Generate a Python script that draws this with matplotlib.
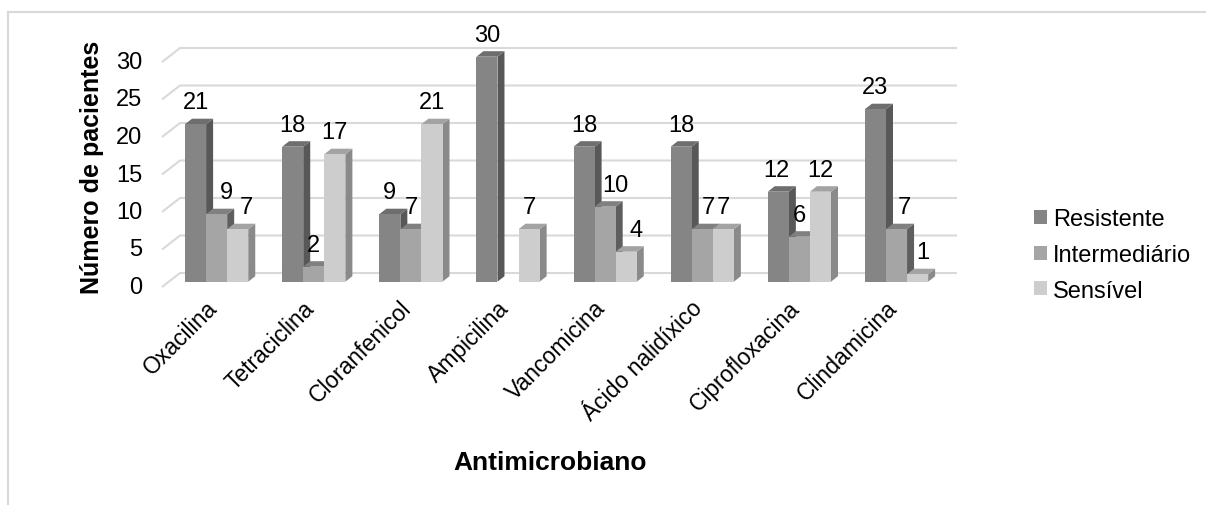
import matplotlib
matplotlib.use("Agg")
import matplotlib.pyplot as plt
import matplotlib.transforms as mtransforms
from matplotlib.patches import Polygon, Patch
from matplotlib.lines import Line2D

plt.rcParams['font.family'] = ['Liberation Sans', 'DejaVu Sans']

# dados
antimicrobianos = ['Oxacilina', 'Tetraciclina', 'Cloranfenicol', 'Ampicilina',
                   'Vancomicina', 'Ácido nalidíxico', 'Ciprofloxacina', 'Clindamicina']
series = ['Resistente', 'Intermediário', 'Sensível']
resistente = [21, 18, 9, 30, 18, 18, 12, 23]
intermediario = [9, 2, 7, 0, 10, 7, 6, 7]
sensivel = [7, 17, 21, 7, 4, 7, 12, 1]
yticks = [0, 5, 10, 15, 20, 25, 30]

valores = [resistente, intermediario, sensivel]

# cores: frente, lado, topo
cores = [('#858585', '#585858', '#6e6e6e'),
         ('#a5a5a5', '#5e5e5e', '#808080'),
         ('#cdcdcd', '#8a8a8a', '#a3a3a3')]
grid_cor = '#d9d9d9'

W, H = 1206, 506
fig = plt.figure(figsize=(W / 100, H / 100), dpi=100)

# plano frontal do grafico em pixels
x0, x1 = 162, 939
y0, y1 = 288, 63
ax = fig.add_axes([x0 / W, 1 - y0 / H, (x1 - x0) / W, (y0 - y1) / H])
n = len(antimicrobianos)
ax.set_xlim(0, n)
ax.set_ylim(0, 30)
ax.axis('off')

pxx = n / (x1 - x0)      # unidades de categoria por pixel
pxy = 30 / (y0 - y1)     # unidades de valor por pixel

# profundidade da parede de fundo e das barras
wall_dx, wall_dy = 18 * pxx, 14 * pxy
bar_ox, bar_oy = 7 * pxx, 5.3 * pxy
bar_dx, bar_dy = 7 * pxx, 5.5 * pxy
bar_w = 0.217
gap = 0.165

# linhas de grade (parede esquerda + fundo)
for v in yticks:
    ax.plot([0, wall_dx, n + wall_dx], [v, v + wall_dy, v + wall_dy],
            color=grid_cor, lw=1.5, solid_capstyle='butt', zorder=1, clip_on=False)

# rotulos do eixo y
for v in yticks:
    ax.text(0, v, str(v), transform=mtransforms.offset_copy(ax.transData, fig=fig, x=-20, y=0, units='dots'),
            ha='right', va='center', fontsize=17, color='black')

# ajustes horizontais de alguns rotulos de valor (pixels)
nudge = {(0, 1): 10, (0, 2): 9, (4, 1): 10, (4, 2): 10, (5, 1): 6, (6, 0): -2,
         (7, 1): 8, (7, 2): 5}

z = 2
for i in range(n):
    for s in range(3):
        v = valores[s][i]
        xl = i + gap + s * bar_w + bar_ox
        xr = xl + bar_w
        yb = bar_oy
        yt = v + bar_oy
        front, side, top = cores[s]
        if v > 0:
            ax.add_patch(Polygon([(xr, yb), (xr + bar_dx, yb + bar_dy), (xr + bar_dx, yt + bar_dy), (xr, yt)],
                                 closed=True, facecolor=side, edgecolor='none', zorder=z, clip_on=False))
            ax.add_patch(Polygon([(xl, yt), (xl + bar_dx, yt + bar_dy), (xr + bar_dx, yt + bar_dy), (xr, yt)],
                                 closed=True, facecolor=top, edgecolor='none', zorder=z, clip_on=False))
            ax.add_patch(Polygon([(xl, yb), (xr, yb), (xr, yt), (xl, yt)],
                                 closed=True, facecolor=front, edgecolor='none', zorder=z, clip_on=False))
            z += 1
            tr = mtransforms.offset_copy(ax.transData, fig=fig, x=nudge.get((i, s), 0), y=16, units='dots')
            ax.text((xl + xr) / 2, yt, str(v), transform=tr, ha='center', va='baseline',
                    fontsize=17, color='black', zorder=100)

# rotulos das categorias
for i, nome in enumerate(antimicrobianos):
    tr = mtransforms.offset_copy(ax.transData, fig=fig, x=-5, y=-9, units='dots')
    ax.text(i + 0.5, 0, nome, transform=tr, rotation=45, rotation_mode='anchor',
            ha='right', va='top', fontsize=16.5, color='black')

# titulos dos eixos
fig.text(92 / W, 1 - 167 / H, 'Número de pacientes', rotation=90, ha='center', va='center',
         fontsize=18, fontweight='bold')
fig.text(550 / W, 1 - 463 / H, 'Antimicrobiano', ha='center', va='center',
         fontsize=19, fontweight='bold')

# legenda
handles = [Patch(facecolor=cores[s][0], edgecolor='none') for s in range(3)]
fig.legend(handles, series, loc='center left', bbox_to_anchor=(1034 / W, 1 - 256 / H),
           frameon=False, fontsize=17, handlelength=0.55, handleheight=0.55,
           handletextpad=0.25, labelspacing=0.58, borderpad=0, borderaxespad=0)

# moldura do grafico
fig.add_artist(Line2D([8 / W, 8 / W], [0, 1 - 13 / H], color=grid_cor, lw=1.5))
fig.add_artist(Line2D([8 / W, 1], [1 - 13 / H, 1 - 13 / H], color=grid_cor, lw=1.5))

fig.savefig('out.png', dpi=100, facecolor='white')
